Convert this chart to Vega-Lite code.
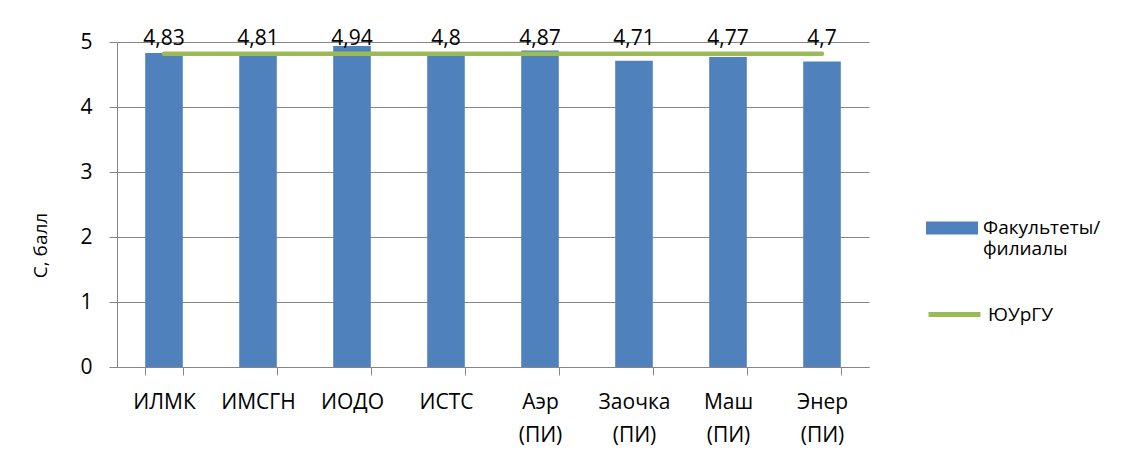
{
  "$schema": "https://vega.github.io/schema/vega-lite/v6.json",
  "width": 752,
  "height": 325,
  "autosize": "none",
  "padding": {"left": 117, "top": 42, "right": 269, "bottom": 84},
  "background": "white",
  "config": {
    "locale": {"number": {"decimal": ",", "thousands": " ", "grouping": [3], "currency": ["", " ₽"]}},
    "view": {"stroke": null},
    "font": "Open Sans"
  },
  "data": {
    "values": [
      {"cat": "ИЛМК", "value": 4.83, "avg": 4.82, "series": "Факультеты/филиалы", "overall": "ЮУрГУ"},
      {"cat": "ИМСГН", "value": 4.81, "avg": 4.82, "series": "Факультеты/филиалы", "overall": "ЮУрГУ"},
      {"cat": "ИОДО", "value": 4.94, "avg": 4.82, "series": "Факультеты/филиалы", "overall": "ЮУрГУ"},
      {"cat": "ИСТС", "value": 4.8, "avg": 4.82, "series": "Факультеты/филиалы", "overall": "ЮУрГУ"},
      {"cat": "Аэр (ПИ)", "value": 4.87, "avg": 4.82, "series": "Факультеты/филиалы", "overall": "ЮУрГУ"},
      {"cat": "Заочка (ПИ)", "value": 4.71, "avg": 4.82, "series": "Факультеты/филиалы", "overall": "ЮУрГУ"},
      {"cat": "Маш (ПИ)", "value": 4.77, "avg": 4.82, "series": "Факультеты/филиалы", "overall": "ЮУрГУ"},
      {"cat": "Энер (ПИ)", "value": 4.7, "avg": 4.82, "series": "Факультеты/филиалы", "overall": "ЮУрГУ"}
    ]
  },
  "encoding": {
    "x": {
      "field": "cat",
      "type": "nominal",
      "sort": null,
      "scale": {"paddingInner": 0.6, "paddingOuter": 0.3},
      "axis": {
        "title": null,
        "labelAngle": 0,
        "labelFontSize": 21,
        "labelColor": "black",
        "labelPadding": 16,
        "labelLineHeight": 33,
        "labelExpr": "split(datum.label, ' ')",
        "tickBand": "extent",
        "domainColor": "#868686",
        "tickColor": "#868686",
        "tickSize": 8,
        "grid": false
      }
    }
  },
  "layer": [
    {
      "mark": {"type": "bar"},
      "encoding": {
        "y": {
          "field": "value",
          "type": "quantitative",
          "scale": {"domain": [0, 5]},
          "axis": {
            "values": [0, 1, 2, 3, 4, 5],
            "format": "d",
            "grid": true,
            "gridColor": "#868686",
            "domainColor": "#868686",
            "tickColor": "#868686",
            "tickSize": 8,
            "labelPadding": 17,
            "labelFontSize": 21,
            "labelColor": "black",
            "title": "С, балл",
            "titleFontSize": 19,
            "titleFontWeight": "normal",
            "titleColor": "black",
            "titleX": -67,
            "titleY": 203
          }
        },
        "fill": {
          "field": "series",
          "type": "nominal",
          "scale": {"range": ["#4F81BD"]},
          "legend": {
            "orient": "none",
            "legendX": 809,
            "legendY": 160,
            "title": null,
            "symbolType": "M-1,-0.25H1V0.25H-1Z",
            "symbolSize": 2704,
            "symbolStrokeWidth": 0,
            "labelFontSize": 19,
            "labelColor": "black",
            "labelOffset": 5,
            "labelLineHeight": 26,
            "labelExpr": "['Факультеты/', 'филиалы']"
          }
        }
      }
    },
    {
      "mark": {"type": "line", "strokeWidth": 4.5, "strokeCap": "round"},
      "encoding": {
        "y": {"field": "avg", "type": "quantitative"},
        "stroke": {
          "field": "overall",
          "type": "nominal",
          "scale": {"range": ["#9BBB59"]},
          "legend": {
            "orient": "none",
            "legendX": 809,
            "legendY": 244,
            "title": null,
            "symbolType": "stroke",
            "symbolSize": 2704,
            "symbolStrokeWidth": 5,
            "labelFontSize": 19,
            "labelColor": "black",
            "labelOffset": 5
          }
        }
      }
    },
    {
      "mark": {"type": "text", "fontSize": 21, "baseline": "middle", "dy": -3, "color": "black"},
      "encoding": {
        "y": {"datum": 5},
        "text": {"field": "value", "type": "quantitative", "format": ".3~g"}
      }
    }
  ]
}
